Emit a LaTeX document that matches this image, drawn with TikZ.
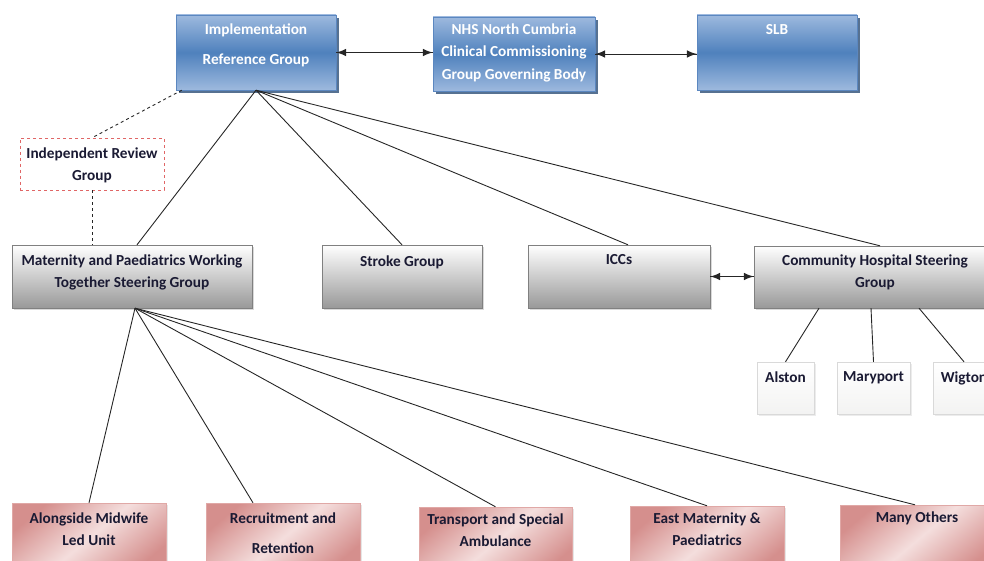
\documentclass[tikz,border=0pt]{standalone}
\usepackage{fontspec}
\setmainfont{Carlito}
\usetikzlibrary{calc,shadows,decorations.markings}
\definecolor{bluetop}{HTML}{9DB9DE}
\definecolor{bluemid}{HTML}{4F81BD}
\definecolor{blueline}{HTML}{5B87C0}
\definecolor{bluedark}{HTML}{2C4D75}
\definecolor{pinkdark}{HTML}{D58F8D}
\definecolor{pinklight}{HTML}{F4DEDD}
\definecolor{pinkline}{HTML}{E0A8A6}
\definecolor{inkdark}{HTML}{1A1A33}
\definecolor{redline}{HTML}{E06666}
\tikzset{<->/.style = {decoration={markings, mark=at position 0 with {\arrowreversed[scale=1.8]{latex}}, mark=at position 1 with {\arrow[scale=1.8]{latex}}}, postaction={decorate}}}
\tikzset{box/.style = {rectangle, draw, inner sep=0pt},
         txt/.style = {font=\fontsize{15.3}{22.5}\selectfont\bfseries, align=center, text=inkdark, inner sep=0pt},
         bluebox/.style = {box, draw=blueline, top color=bluetop, bottom color=bluetop, middle color=bluemid,
                           drop shadow={shadow xshift=3pt, shadow yshift=-3pt, fill=bluedark, opacity=.8}},
         graybox/.style = {box, draw=gray, top color=white, bottom color=black!40,
                           drop shadow={shadow xshift=2pt, shadow yshift=-2pt, opacity=.3}},
         pinkbox/.style = {box, draw=pinkline, left color=pinkdark, right color=pinkdark, middle color=pinklight,
                           shading angle=40, drop shadow={shadow xshift=2pt, shadow yshift=-2pt, opacity=.2}},
         placebox/.style = {box, draw=black!15, top color=white, bottom color=yellow!4!black!5,
                            drop shadow={shadow xshift=2pt, shadow yshift=-2pt, opacity=.15}},
         link/.style = {line width=.9pt, black!85}}

\begin{document}
\begin{tikzpicture}[x=1pt, y=-1pt]
\useasboundingbox (0,0) rectangle (984,561);
% top row
\node [bluebox, minimum width=160pt, minimum height=75pt,
       label={[txt, text=white, anchor=north, label distance=-8.5pt]north:{Implementation\\[7.5pt]Reference Group}}] (impl) at (256,52.5) {};
\node [bluebox, minimum width=162pt, minimum height=74pt,
       label={[txt, text=white, anchor=north, label distance=-6.5pt]north:{NHS North Cumbria\\Clinical Commissioning\\Group Governing Body}}] (nhs) at (514,54) {};
\node [bluebox, minimum width=160pt, minimum height=75pt,
       label={[txt, text=white, anchor=north, label distance=-9.5pt]north:SLB}] (slb) at (777,52.5) {};
\node [box, draw=redline, dashed, fill=white, minimum width=144pt, minimum height=52pt,
       label={[txt, anchor=north, label distance=-9.5pt]north:{Independent Review\\Group}}] (irg) at (92,164) {};
% steering groups
\node [graybox, minimum width=240pt, minimum height=63pt,
       label={[txt, anchor=north, label distance=-9.5pt]north:{Maternity and Paediatrics Working\\Together Steering Group}}] (mpw) at (132,276.5) {};
\node [graybox, minimum width=160pt, minimum height=63pt,
       label={[txt, anchor=north, label distance=-10.5pt]north:Stroke Group}] (stroke) at (402,276.5) {};
\node [graybox, minimum width=182pt, minimum height=63pt,
       label={[txt, anchor=north, label distance=-9.5pt]north:ICCs}] (iccs) at (619,276.5) {};
\node [graybox, minimum width=242pt, minimum height=62pt,
       label={[txt, anchor=north, label distance=-8.5pt]north:{Community Hospital Steering\\Group}}] (chs) at (875,277) {};
% community hospitals
\node [placebox, minimum width=57pt, minimum height=52pt,
       label={[txt, anchor=north, label distance=-9.5pt]north:Alston}] (alston) at (785.5,388) {};
\node [placebox, minimum width=73pt, minimum height=52pt,
       label={[txt, anchor=north, label distance=-9.5pt]north:Maryport}] (maryport) at (873.5,388) {};
\node [placebox, minimum width=62pt, minimum height=52pt,
       label={[txt, anchor=north, label distance=-9.5pt]north:Wigton}] (wigton) at (964,388) {};
% working groups
\node [pinkbox, minimum width=154pt, minimum height=70pt,
       label={[txt, anchor=north, label distance=-9.5pt]north:{Alongside Midwife\\Led Unit}}] (amu) at (89,538) {};
\node [pinkbox, minimum width=154pt, minimum height=70pt,
       label={[txt, anchor=north, label distance=-9.5pt]north:{Recruitment and\\[7.5pt]Retention}}] (recruit) at (283,538) {};
\node [pinkbox, minimum width=153pt, minimum height=70pt,
       label={[txt, anchor=north, label distance=-6.5pt]north:{Transport and Special\\Ambulance}}] (transport) at (495.5,542) {};
\node [pinkbox, minimum width=154pt, minimum height=70pt,
       label={[txt, anchor=north, label distance=-6.5pt]north:{East Maternity \&\\Paediatrics}}] (east) at (707,541) {};
\node [pinkbox, minimum width=154pt, minimum height=70pt,
       label={[txt, anchor=north, label distance=-6.5pt]north:Many Others}] (others) at (917,540) {};
% arrows
\draw [link, <->] (impl.east) -- (impl.east -| nhs.west);
\draw [link, <->] (nhs.east) -- (nhs.east -| slb.west);
\draw [link, <->] (iccs.east) -- (iccs.east -| chs.west);
% reporting lines
\draw [link, dashed] ([xshift=6pt]impl.south west) -- (irg.north);
\draw [link, dashed] (irg.south) -- (irg.south |- mpw.north);
\draw [link] (impl.south) -- ([xshift=5pt]mpw.north);
\draw [link] (impl.south) -- (stroke.north);
\draw [link] (impl.south) -- ([xshift=9pt]iccs.north);
\draw [link] (impl.south) -- ([xshift=5pt]chs.north);
\draw [link] ([xshift=-56pt]chs.south) -- (alston.north);
\draw [link] ([xshift=-4pt]chs.south) -- (maryport.north);
\draw [link] ([xshift=44pt]chs.south) -- (wigton.north);
\draw [link] ([xshift=3pt]mpw.south) -- (amu.north);
\draw [link] ([xshift=3pt]mpw.south) -- ([xshift=-30pt]recruit.north);
\draw [link] ([xshift=3pt]mpw.south) -- (transport.north);
\draw [link] ([xshift=3pt]mpw.south) -- (east.north);
\draw [link] ([xshift=3pt]mpw.south) -- ([xshift=-2pt]others.north);
\end{tikzpicture}
\end{document}
